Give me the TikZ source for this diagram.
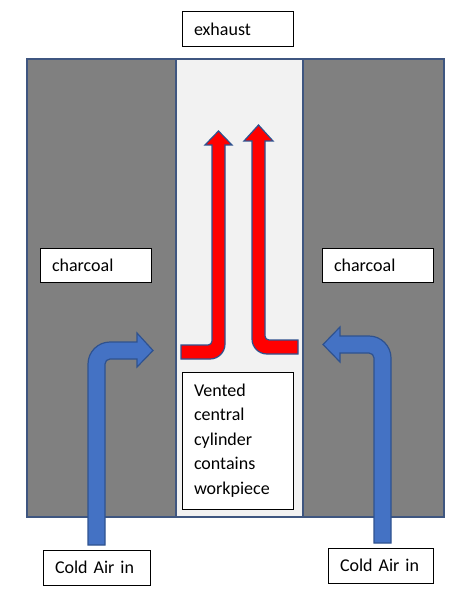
\documentclass[tikz,border=0pt]{standalone}
\usepackage{fontspec}
\setmainfont{Carlito}
\definecolor{coal}{HTML}{808080}
\definecolor{tube}{HTML}{F2F2F2}
\definecolor{wall}{HTML}{3F5680}
\definecolor{airblue}{HTML}{4472C4}
\definecolor{arrline}{HTML}{2F528F}
\definecolor{hotred}{HTML}{FF0000}
\begin{document}
\begin{tikzpicture}[x=1pt,y=-1pt,
  labelbox/.style={draw=black, line width=1pt, fill=white, inner xsep=12pt, inner ysep=0pt,
    font=\fontsize{18}{24.5}\selectfont, align=left, anchor=center},
  airarrow/.style={fill=airblue, draw=arrline, line width=1.2pt, line join=miter},
  hotarrow/.style={fill=hotred, draw=arrline, line width=1.2pt, line join=miter},
  zone/.style={draw=wall, line width=1.8pt}]
\useasboundingbox (0,0) rectangle (468,604);
% furnace body
\path[zone, fill=coal] (27,59) rectangle (176,517);
\path[zone, fill=coal] (303,59) rectangle (444,517);
\path[zone, fill=tube] (176,59) rectangle (303,517);
% labels
\node[labelbox, minimum width=111pt, minimum height=35pt, text width=87pt] (exh) at (237.5,29.5) {exhaust};
\node[labelbox, minimum width=111pt, minimum height=34pt, text width=87pt] (chl) at (95.5,265) {charcoal};
\node[labelbox, minimum width=111pt, minimum height=34pt, text width=87pt] (chr) at (377.5,265) {charcoal};
\node[labelbox, minimum width=111pt, minimum height=137pt, text width=87pt] (vent) at (237.5,440.5) {Vented\\central\\cylinder\\contains\\workpiece};
\node[labelbox, minimum width=107pt, minimum height=35pt, text width=83pt] (cal) at (96.5,567.5) {Cold Air in};
\node[labelbox, minimum width=105pt, minimum height=35pt, text width=81pt] (car) at (380.5,565.5) {Cold Air in};
% cold air arrows
\path[airarrow] (88,545) -- (88,364) .. controls (88,351.9) and (97.9,342) .. (110,342)
  -- (137,342) -- (137,333) -- (153,350.5) -- (137,367) -- (137,359)
  -- (110,359) .. controls (107.2,359) and (105,361.2) .. (105,364) -- (105,545) -- cycle;
\path[airarrow] (391,543) -- (391,358) .. controls (391,345.9) and (381.1,336) .. (369,336)
  -- (340,336) -- (340,327) -- (323,344.5) -- (340,362) -- (340,353)
  -- (369,353) .. controls (371.8,353) and (374,355.2) .. (374,358) -- (374,543) -- cycle;
% hot gas arrows
\path[hotarrow] (181,345) -- (208,345) .. controls (210.2,345) and (212,343.2) .. (212,341)
  -- (212,145) -- (205,145) -- (218.5,131) -- (232,145) -- (225,145)
  -- (225,344) .. controls (225,352.3) and (218.3,359) .. (210,359) -- (181,359) -- cycle;
\path[hotarrow] (298,340) -- (269,340) .. controls (266.8,340) and (265,338.2) .. (265,336)
  -- (265,141) -- (273,141) -- (258.5,125) -- (244,141) -- (252,141)
  -- (252,339) .. controls (252,347.3) and (258.7,354) .. (267,354) -- (298,354) -- cycle;
\end{tikzpicture}
\end{document}
